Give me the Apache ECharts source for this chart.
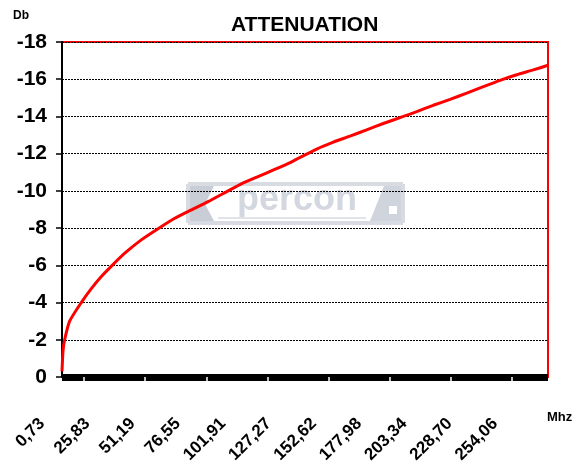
<!DOCTYPE html>
<html>
<head>
<meta charset="utf-8">
<script src="https://cdn.jsdelivr.net/npm/echarts@6/dist/echarts.min.js"></script>
<style>
  html, body { margin: 0; padding: 0; background: #fff; }
  #chart { width: 588px; height: 466px; }
</style>
</head>
<body>
<div id="chart"></div>
<script>
// frequency (MHz) and attenuation (dB)
const freq = [0.73, 1.3, 2.2, 5.0, 11.5, 17.1, 22.7, 29.2, 35.8, 45.0, 54.4, 63.7, 73.0, 82.3,
  93.5, 100.9, 110.2, 119.5, 128.8, 133.7, 143.0, 152.3, 161.6, 170.9, 180.2, 191.4, 198.9,
  208.1, 217.5, 226.8, 236.1, 245.4, 254.7, 264.0, 272.2];
const atten = [-0.3, -1.4, -2.0, -3.0, -4.0, -4.75, -5.4, -6.04, -6.65, -7.37, -7.97, -8.53, -8.98, -9.42,
  -10.0, -10.38, -10.77, -11.15, -11.55, -11.8, -12.25, -12.62, -12.94, -13.28, -13.62, -14.0, -14.26,
  -14.6, -14.92, -15.25, -15.6, -15.94, -16.24, -16.5, -16.75];
const xLabels = ["0,73", "25,83", "51,19", "76,55", "101,91", "127,27", "152,62",
  "177,98", "203,34", "228,70", "254,06"];
const whiteTicks = 7;

const font = "'Liberation Sans', Arial, sans-serif";
const chart = echarts.init(document.getElementById("chart"), null, { renderer: "canvas" });

// watermark frame
function edge(x1, y1, x2, y2) {
  return { type: "line", shape: { x1, y1, x2, y2 }, style: { stroke: "#d8dbe2", lineWidth: 4 } };
}

chart.setOption({
  backgroundColor: "#fff",
  animation: false,
  title: {
    text: "ATTENUATION",
    left: 226,
    top: 10,
    textStyle: { fontSize: 21, fontWeight: "bold", color: "#000", fontFamily: font }
  },
  grid: [
    { left: 62, right: 40, top: 42, bottom: 89, show: true, borderColor: "#ff0000", borderWidth: 2 },
    { left: 84, right: 76, top: 42, bottom: 89 },
    { left: 42, right: 93, top: 42, bottom: 89 }
  ],
  xAxis: [
    {
      type: "value", gridIndex: 0, min: 0.73, max: 272.2, offset: 3.5,
      axisLine: { show: true, lineStyle: { color: "#000", width: 7, cap: "butt" } },
      axisTick: { show: false }, axisLabel: { show: false }, splitLine: { show: false }
    },
    {
      type: "value", gridIndex: 1, min: 0, max: whiteTicks, interval: 1, z: 4,
      axisLine: { show: false },
      axisTick: { show: true, length: 7, lineStyle: { color: "#fff", width: 1.5 } },
      axisLabel: { show: false }, splitLine: { show: false }
    },
    {
      type: "category", gridIndex: 2, data: xLabels, boundaryGap: false,
      axisLine: { show: false }, axisTick: { show: false }, splitLine: { show: false },
      axisLabel: {
        interval: 0, rotate: 45, margin: 44,
        fontSize: 17, fontWeight: "bold", color: "#000",
        fontFamily: "'Liberation Sans Narrow', 'Liberation Sans', Arial, sans-serif"
      }
    }
  ],
  yAxis: [
    {
      type: "value", gridIndex: 0, inverse: true, min: -18, max: 0, interval: 2,
      axisLine: { show: true, lineStyle: { color: "#000", width: 2 } },
      axisTick: { show: true, length: 6, lineStyle: { color: "#000", width: 1.5 } },
      axisLabel: { margin: 15, fontSize: 21, fontWeight: "bold", color: "#000", fontFamily: font },
      splitLine: { show: true, lineStyle: { color: "#000", width: 1, type: [2, 1] } }
    },
    { type: "value", gridIndex: 1, show: false },
    { type: "value", gridIndex: 2, show: false }
  ],
  graphic: [
    edge(188, 184, 403, 184),
    edge(403, 184, 403, 223),
    edge(403, 223, 188, 223),
    edge(188, 223, 188, 184),
    { type: "polygon", shape: { points: [[190, 186], [214, 186], [205, 204], [214, 221], [190, 221]] },
      style: { fill: "#c9cdd5" } },
    { type: "text", x: 297, y: 200,
      style: { text: "percon", fontSize: 36, fontWeight: "bold", fontFamily: font,
        fill: "#d3d7df", align: "center", verticalAlign: "middle" } },
    { type: "line", shape: { x1: 218, y1: 218, x2: 366, y2: 218 },
      style: { stroke: "#e0e3e8", lineWidth: 2 } },
    { type: "polygon", shape: { points: [[384, 186], [401, 186], [401, 221], [370, 221]] },
      style: { fill: "#d0d4dc" } },
    { type: "rect", shape: { x: 389, y: 206, width: 8, height: 8 }, style: { fill: "#fff" } },
    { type: "text", left: 13, top: 10,
      style: { text: "Db", fontSize: 12, fontWeight: "bold", fontFamily: font, fill: "#000" } },
    { type: "text", left: 547, top: 411,
      style: { text: "Mhz", fontSize: 13, fontWeight: "bold", fontFamily: font, fill: "#000" } }
  ],
  series: [
    {
      type: "line",
      xAxisIndex: 0,
      yAxisIndex: 0,
      data: freq.map((f, i) => [f, atten[i]]),
      showSymbol: false,
      smooth: 0.2,
      lineStyle: { color: "#ff0000", width: 3 },
      z: 5
    }
  ]
});
</script>
</body>
</html>
